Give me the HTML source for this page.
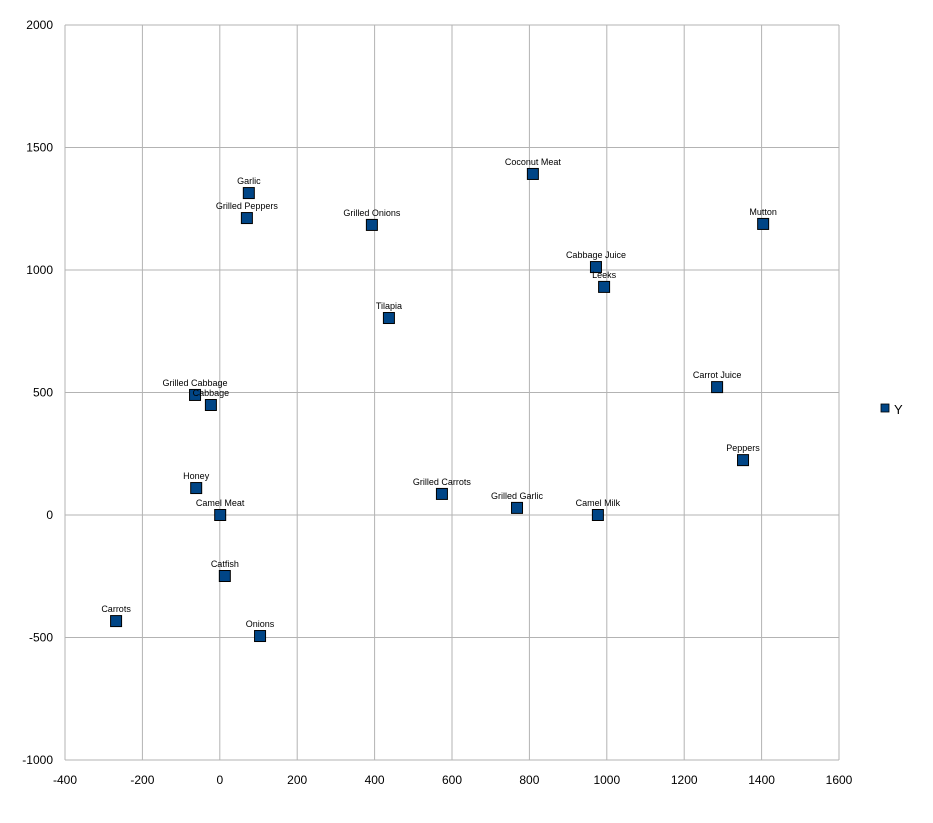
<!DOCTYPE html>
<html><head><meta charset="utf-8"><style>
body{margin:0;background:#fff;}
svg{display:block;font-family:"Liberation Sans",sans-serif;}
</style></head><body>
<svg id="chart" width="933" height="823" viewBox="0 0 933 823" xmlns="http://www.w3.org/2000/svg">
<g id="grid"></g>
<g id="ticks"></g>
<g id="points"></g>
<g>
<rect x="881" y="404" width="8" height="8" fill="#004586" stroke="#000" stroke-width="0.8"/>
<text x="894" y="414" font-size="13">Y</text>
</g>
</svg>
<script>
const labels=["Garlic","Grilled Peppers","Grilled Onions","Coconut Meat","Mutton","Cabbage Juice","Leeks","Tilapia","Carrot Juice","Grilled Cabbage","Cabbage","Peppers","Honey","Grilled Carrots","Grilled Garlic","Camel Meat","Camel Milk","Catfish","Carrots","Onions"];
const xValues=[75,70,393,809,1404,972,993,437,1285,-64,-23,1352,-61,574,768,1,977,13,-268,104];
const yValues=[1314,1212,1184,1392,1188,1012,931,804,522,490,449,224,110,86,29,0,0,-249,-433,-494];
const xTicks=[-400,-200,0,200,400,600,800,1000,1200,1400,1600];
const yTicks=[-1000,-500,0,500,1000,1500,2000];
const NS="http://www.w3.org/2000/svg";
const L=65,R=839,T=25,B=760;
const xs=v=>L+(v+400)/2000*(R-L);
const ys=v=>B-(v+1000)/3000*(B-T);
function mk(tag,attrs,parent){const e=document.createElementNS(NS,tag);for(const k in attrs)e.setAttribute(k,attrs[k]);parent.appendChild(e);return e;}
const grid=document.getElementById('grid'),ticks=document.getElementById('ticks'),pts=document.getElementById('points');
xTicks.forEach(t=>{const l=mk('line',{x1:xs(t),x2:xs(t),y1:T,y2:B,stroke:'#b3b3b3','stroke-width':1},grid);


const tx=mk('text',{x:xs(t),y:B+24,'font-size':12,'text-anchor':'middle'},ticks);tx.textContent=t;

});
yTicks.forEach(t=>{const l=mk('line',{x1:L,x2:R,y1:ys(t),y2:ys(t),stroke:'#b3b3b3','stroke-width':1},grid);


const tx=mk('text',{x:L-12,y:ys(t)+4,'font-size':12,'text-anchor':'end'},ticks);tx.textContent=t;

});
labels.forEach((n,i)=>{const cx=xs(xValues[i]),cy=ys(yValues[i]);
const r=mk('rect',{x:cx-5.5,y:cy-5.5,width:11,height:11,fill:'#004586',stroke:'#000','stroke-width':1},pts);


const tx=mk('text',{x:cx,y:cy-9,'font-size':9,'text-anchor':'middle'},pts);tx.textContent=n;

});
</script>
</body></html>
